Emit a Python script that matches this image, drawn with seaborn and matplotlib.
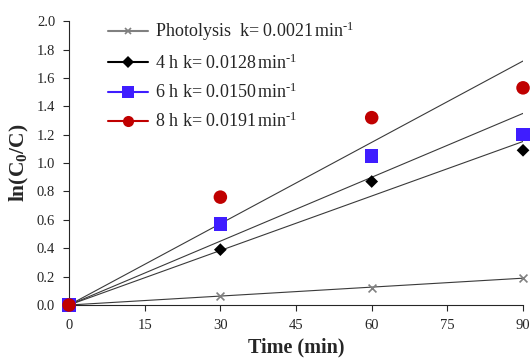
import matplotlib
matplotlib.use("Agg")
import matplotlib.pyplot as plt
from matplotlib.lines import Line2D
import seaborn as sns
import numpy as np

# Data
time_min = [0, 30, 60, 90]
photolysis = [0.0, 0.06, 0.12, 0.19]
h4 = [0.0, 0.39, 0.87, 1.09]
h6 = [0.0, 0.57, 1.05, 1.20]
h8 = [0.0, 0.76, 1.32, 1.53]
rate_k = [0.0021, 0.0128, 0.0150, 0.0191]
series_names = ["Photolysis ", "4 h", "6 h", "8 h"]

sns.set_style("ticks")
plt.rcParams['font.family'] = ['Liberation Serif', 'DejaVu Serif']
plt.rcParams['mathtext.fontset'] = 'custom'
plt.rcParams['mathtext.rm'] = 'Liberation Serif'
plt.rcParams['mathtext.it'] = 'Liberation Serif:italic'
plt.rcParams['mathtext.bf'] = 'Liberation Serif:bold'

fig, ax = plt.subplots(figsize=(5.31, 3.58), dpi=100)
fig.subplots_adjust(left=0.130, right=0.985, bottom=0.148, top=0.941)

styles = [
    dict(marker="x", color="#808080", s=32, lw=1.2),
    dict(marker="D", color="black", s=42, lw=0),
    dict(marker="s", color="#3F1DFF", s=95, lw=0),
    dict(marker="o", color="#C00000", s=95, lw=0),
]
values = [photolysis, h4, h6, h8]

# fitted first-order lines y = k t
t_fit = np.array([time_min[0], time_min[-1]])
for k in rate_k:
    sns.lineplot(x=t_fit, y=k * t_fit, ax=ax, color="#3a3a3a", lw=0.8, zorder=2)

for vals, st in zip(values, styles):
    sns.scatterplot(x=time_min, y=vals, ax=ax, marker=st["marker"], color=st["color"],
                    s=st["s"], linewidth=st["lw"], edgecolor=st["color"] if st["marker"] == "x" else "none",
                    clip_on=False, zorder=3)

ax.set_xlim(0, 90)
ax.set_ylim(0, 2.0)
ax.set_xticks([0, 15, 30, 45, 60, 75, 90])
ax.set_yticks(np.arange(0, 2.01, 0.2))
ax.yaxis.set_major_formatter(matplotlib.ticker.FormatStrFormatter("%.1f"))
ax.tick_params(labelsize=10.5, length=4, width=0.8, direction="out", pad=6)
sns.despine(ax=ax)
for sp in ["left", "bottom"]:
    ax.spines[sp].set_linewidth(0.8)

ax.set_xlabel("Time (min)", fontsize=14.5, fontweight="bold", labelpad=4)
ax.set_ylabel(r"ln(C$_{\mathbf{0}}$/C)", fontsize=15.5, fontweight="bold", labelpad=4)

handles = []
labels = []
legend_ms = [5, 6, 8, 8]
for name, k, st, ms in zip(series_names, rate_k, styles, legend_ms):
    handles.append(Line2D([], [], color=st["color"], marker=st["marker"], markersize=ms,
                          lw=1.5, markeredgewidth=1.2 if st["marker"] == "x" else 0))
    labels.append(f"{name} k= {k:.4f}" + r"$\,$min$^{\text{-1}}$")
ax.legend(handles, labels, loc="upper left", bbox_to_anchor=(0.07, 1.03), frameon=False,
          fontsize=13, handlelength=2.2, handletextpad=0.4, labelspacing=0.55, borderaxespad=0)

plt.savefig("out.png", dpi=100)
